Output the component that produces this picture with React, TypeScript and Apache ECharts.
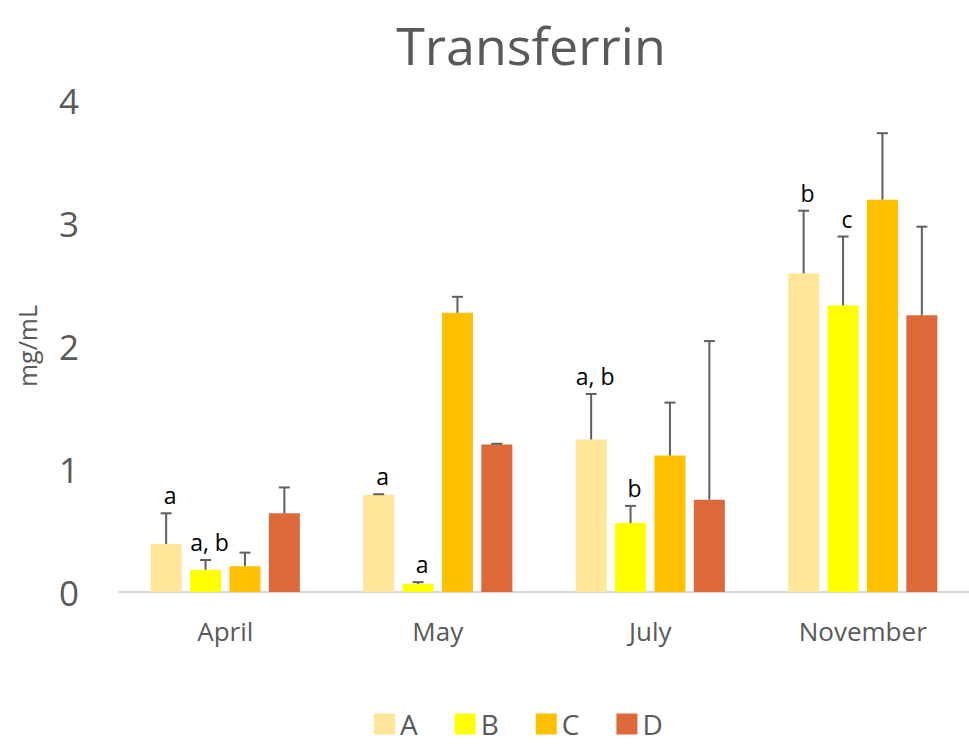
import React, { useEffect, useRef } from "react";
import * as echarts from "echarts";

const categories = ["April", "May", "July", "November"];
const seriesNames = ["A", "B", "C", "D"];
const colors = ["#FFE699", "#FFFF00", "#FFC000", "#DD693B"];

const valuesA = [0.39, 0.79, 1.24, 2.59];
const valuesB = [0.18, 0.065, 0.56, 2.33];
const valuesC = [0.21, 2.27, 1.11, 3.19];
const valuesD = [0.64, 1.2, 0.75, 2.25];

const errorA = [0.25, 0.005, 0.37, 0.51];
const errorB = [0.08, 0.015, 0.14, 0.56];
const errorC = [0.11, 0.13, 0.43, 0.54];
const errorD = [0.21, 0.005, 1.29, 0.72];

const lettersA = ["a", "a", "a, b", "b"];
const lettersB = ["a, b", "a", "b", "c"];
const lettersC = ["", "", "", ""];
const lettersD = ["", "", "", ""];

const yTicks = [0, 1, 2, 3, 4];

const allValues = [valuesA, valuesB, valuesC, valuesD];
const allErrors = [errorA, errorB, errorC, errorD];
const allLetters = [lettersA, lettersB, lettersC, lettersD];

const FONT = "Open Sans";
const BAR_W = 31;
const BAR_GAP = 8.4;

export default function App() {
  const ref = useRef<HTMLDivElement>(null);
  useEffect(() => {
    if (!ref.current) return;
    const chart = echarts.init(ref.current, undefined, { renderer: "svg" });
    const offsets = [-1.5, -0.5, 0.5, 1.5].map((k) => k * (BAR_W + BAR_GAP));

    const barSeries = seriesNames.map((name, i) => ({
      name,
      type: "bar",
      data: allValues[i],
      barWidth: BAR_W,
      barGap: (BAR_GAP / BAR_W) * 100 + "%",
      itemStyle: { color: colors[i] },
      z: 2,
    }));

    const errSeries = seriesNames.map((name, i) => ({
      type: "custom",
      name: name + "_err",
      z: 3,
      data: categories.map((_, c) => [c, allValues[i][c], allErrors[i][c]]),
      renderItem: (params: any, api: any) => {
        const c = api.value(0);
        const v = api.value(1);
        const e = api.value(2);
        const letter = allLetters[i][c];
        const base = api.coord([c, v]);
        const top = api.coord([c, v + e]);
        const x = base[0] + offsets[i];
        const children: any[] = [
          {
            type: "line",
            shape: { x1: x, y1: base[1], x2: x, y2: top[1] },
            style: { stroke: "#5F5F5F", lineWidth: 2 },
          },
          {
            type: "line",
            shape: { x1: x - 5.5, y1: top[1], x2: x + 5.5, y2: top[1] },
            style: { stroke: "#5F5F5F", lineWidth: 2 },
          },
        ];
        if (letter) {
          children.push({
            type: "text",
            x: x + 4,
            y: top[1] - 18,
            style: {
              text: letter,
              fill: "#000000",
              font: `23px "${FONT}"`,
              align: "center",
              verticalAlign: "middle",
            },
          });
        }
        return { type: "group", children };
      },
    }));

    chart.setOption({
      animation: false,
      backgroundColor: "#ffffff",
      title: {
        text: "Transferrin",
        left: 526,
        top: 13,
        textAlign: "center",
        textStyle: { fontFamily: FONT, fontSize: 52, fontWeight: "normal", color: "#595959" },
      },
      legend: {
        data: seriesNames,
        left: 369,
        top: 705,
        itemWidth: 21,
        itemHeight: 21,
        itemGap: 37,
        icon: "rect",
        textStyle: { fontFamily: FONT, fontSize: 28, color: "#595959" },
      },
      grid: { left: 119, top: 100, width: 862, height: 492, containLabel: false },
      xAxis: {
        type: "category",
        data: categories,
        axisLine: { lineStyle: { color: "#D9D9D9", width: 2 } },
        axisTick: { show: false },
        axisLabel: { fontFamily: FONT, fontSize: 26, color: "#595959", margin: 26 },
      },
      yAxis: {
        type: "value",
        min: 0,
        max: 4,
        interval: 1,
        name: "mg/mL",
        nameLocation: "middle",
        nameRotate: 90,
        nameGap: 80,
        nameTextStyle: { fontFamily: FONT, fontSize: 25, color: "#595959" },
        axisLine: { show: false },
        axisTick: { show: false },
        splitLine: { show: false },
        axisLabel: {
          fontFamily: FONT,
          fontSize: 35,
          color: "#595959",
          margin: 40,
          formatter: (v: number) => (yTicks.includes(v) ? String(v) : ""),
        },
      },
      series: [...barSeries, ...errSeries],
    });
    return () => chart.dispose();
  }, []);
  return <div ref={ref} style={{ width: 969, height: 744, position: "fixed", left: 0, top: 0 }} />;
}
